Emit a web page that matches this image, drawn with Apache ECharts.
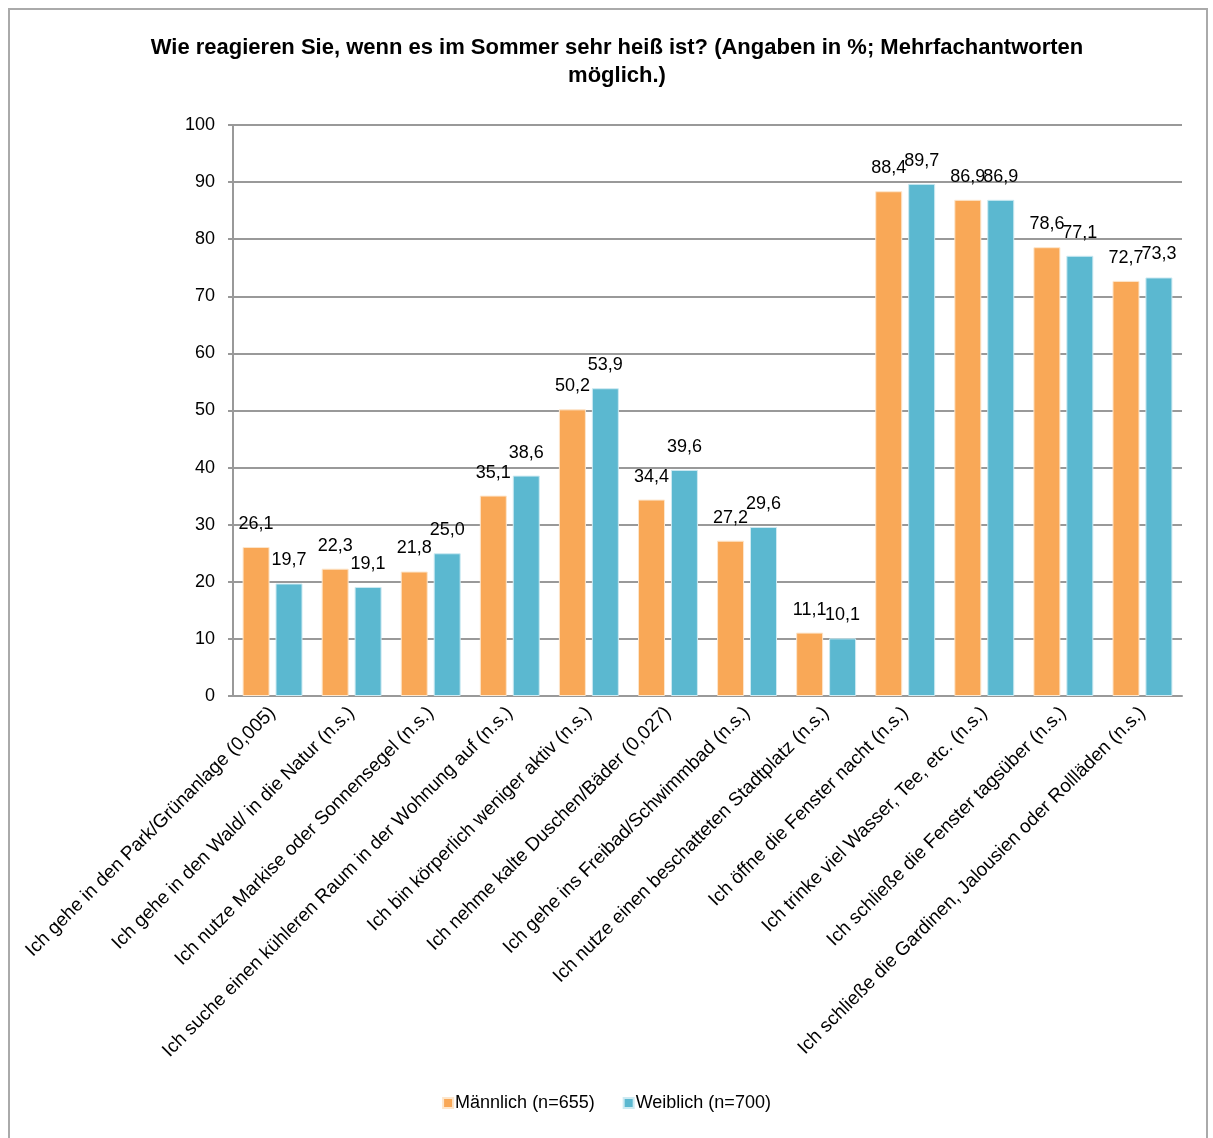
<!DOCTYPE html>
<html><head><meta charset="utf-8">
<script src="https://cdn.jsdelivr.net/npm/echarts@6/dist/echarts.min.js"></script>
<style>
html,body{margin:0;padding:0;background:#fff;}
#frame{position:absolute;left:8px;top:8px;width:1200px;height:1140px;border:2px solid #aaa;box-sizing:border-box;}
#c{position:absolute;left:0;top:0;width:1213px;height:1138px;}
</style></head>
<body>
<div id="frame"></div>
<div id="c"></div>
<script>
const categories = [
  "Ich gehe in den Park/Grünanlage (0,005)",
  "Ich gehe in den Wald/ in die Natur (n.s.)",
  "Ich nutze Markise oder Sonnensegel (n.s.)",
  "Ich suche einen kühleren Raum in der Wohnung auf (n.s.)",
  "Ich bin körperlich weniger aktiv (n.s.)",
  "Ich nehme kalte Duschen/Bäder (0,027)",
  "Ich gehe ins Freibad/Schwimmbad (n.s.)",
  "Ich nutze einen beschatteten Stadtplatz (n.s.)",
  "Ich öffne die Fenster nacht (n.s.)",
  "Ich trinke viel Wasser, Tee, etc. (n.s.)",
  "Ich schließe die Fenster tagsüber (n.s.)",
  "Ich schließe die Gardinen, Jalousien oder Rollläden (n.s.)"
];
const maleValues = [26.1, 22.3, 21.8, 35.1, 50.2, 34.4, 27.2, 11.1, 88.4, 86.9, 78.6, 72.7];
const femaleValues = [19.7, 19.1, 25.0, 38.6, 53.9, 39.6, 29.6, 10.1, 89.7, 86.9, 77.1, 73.3];
const seriesNames = ["Männlich (n=655)", "Weiblich (n=700)"];
const titleText = "Wie reagieren Sie, wenn es im Sommer sehr heiß ist? (Angaben in %; Mehrfachantworten\nmöglich.)";

const font = "Liberation Sans, Arial, sans-serif";
const fmt = p => p.value.toFixed(1).replace('.', ',');
const labelCfg = {show:true, position:'top', distance:14, formatter:fmt, color:'#000', fontSize:18, fontFamily:font};

const chart = echarts.init(document.getElementById('c'));
chart.setOption({
  animation:false,
  title:{text:titleText, left:612, top:29, textAlign:'center',
    textStyle:{fontSize:22, fontWeight:'bold', color:'#000', fontFamily:font, lineHeight:28}},
  legend:{bottom:21, left:'center', itemWidth:10, itemHeight:10, itemGap:28,
    icon:'rect', textStyle:{fontSize:18, color:'#000', fontFamily:font, padding:[0,0,0,-3]},
    data:seriesNames},
  grid:{left:233, right:31, top:125, bottom:442, containLabel:false},
  xAxis:{type:'category', data:categories,
    axisLine:{show:true, lineStyle:{color:'#999', width:2}},
    axisTick:{show:false},
    axisLabel:{rotate:45, interval:0, color:'#000', fontSize:19, fontFamily:font, margin:14}},
  yAxis:{type:'value', min:0, max:100, interval:10,
    axisLine:{show:true, lineStyle:{color:'#999', width:2}},
    axisTick:{show:true, length:5, lineStyle:{color:'#999', width:2}},
    splitLine:{lineStyle:{color:'#999', width:2}},
    axisLabel:{color:'#000', fontSize:18, fontFamily:font, margin:18}},
  series:[
    {name:seriesNames[0], type:'bar', data:maleValues, barWidth:27, barGap:'22%',
      itemStyle:{color:'#F9A857', borderColor:'#fde6cc', borderWidth:1}, label:labelCfg},
    {name:seriesNames[1], type:'bar', data:femaleValues, barWidth:27,
      itemStyle:{color:'#5BB8D0', borderColor:'#cdeaf2', borderWidth:1}, label:labelCfg}
  ]
});
</script>
</body></html>
